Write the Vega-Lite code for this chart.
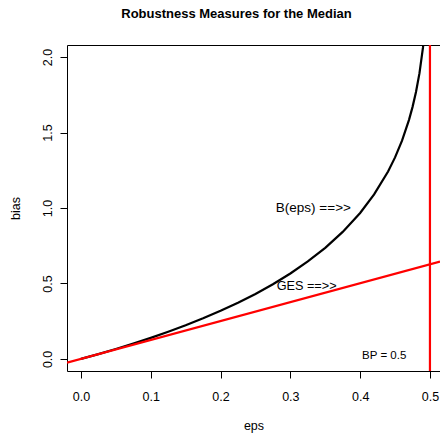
{
  "$schema": "https://vega.github.io/schema/vega-lite/v6.json",
  "width": 373,
  "height": 326,
  "autosize": "none",
  "padding": {"left": 67, "top": 45, "right": 0, "bottom": 62},
  "background": "white",
  "config": {
    "font": "Liberation Sans",
    "view": {"stroke": "black", "strokeWidth": 1},
    "axis": {
      "domain": false,
      "grid": false,
      "tickColor": "black",
      "tickSize": 7,
      "labelFontSize": 12.5,
      "labelColor": "black",
      "labelFont": "Liberation Sans",
      "titleFont": "Liberation Sans",
      "titleFontSize": 12.5,
      "titleFontWeight": "normal",
      "titleColor": "black"
    }
  },
  "title": {
    "text": "Robustness Measures for the Median",
    "font": "Liberation Sans",
    "fontSize": 13,
    "fontWeight": "bold",
    "color": "black",
    "anchor": "middle",
    "offset": 23,
    "dx": -17
  },
  "datasets": {
    "curve": [
      {"eps": 0.0, "bias": 0.0},
      {"eps": 0.025, "bias": 0.0321},
      {"eps": 0.05, "bias": 0.066},
      {"eps": 0.075, "bias": 0.1018},
      {"eps": 0.1, "bias": 0.1397},
      {"eps": 0.125, "bias": 0.18},
      {"eps": 0.15, "bias": 0.223},
      {"eps": 0.175, "bias": 0.2691},
      {"eps": 0.2, "bias": 0.3186},
      {"eps": 0.225, "bias": 0.3723},
      {"eps": 0.25, "bias": 0.4307},
      {"eps": 0.275, "bias": 0.4949},
      {"eps": 0.3, "bias": 0.5659},
      {"eps": 0.325, "bias": 0.6456},
      {"eps": 0.35, "bias": 0.7363},
      {"eps": 0.375, "bias": 0.8416},
      {"eps": 0.4, "bias": 0.9674},
      {"eps": 0.42, "bias": 1.0898},
      {"eps": 0.44, "bias": 1.2417},
      {"eps": 0.45, "bias": 1.3352},
      {"eps": 0.46, "bias": 1.4461},
      {"eps": 0.47, "bias": 1.5839},
      {"eps": 0.475, "bias": 1.6684},
      {"eps": 0.48, "bias": 1.7688},
      {"eps": 0.485, "bias": 1.8936},
      {"eps": 0.49, "bias": 2.0619},
      {"eps": 0.4925, "bias": 2.176},
      {"eps": 0.495, "bias": 2.3301}
    ],
    "ges": [
      {"eps": -0.02, "bias": -0.0251},
      {"eps": 0.5144, "bias": 0.6447}
    ],
    "bp": [{"eps": 0.5}],
    "labels": [
      {"eps": 0.333, "bias": 1.0, "label": "B(eps) ==>>", "size": 13.5},
      {"eps": 0.3233, "bias": 0.485, "label": "GES ==>>", "size": 12.7},
      {"eps": 0.4344, "bias": 0.022, "label": "BP = 0.5", "size": 11.5}
    ]
  },
  "layer": [
    {
      "data": {"name": "curve"},
      "mark": {"type": "line", "color": "black", "strokeWidth": 2.2, "clip": true},
      "encoding": {
        "x": {
          "field": "eps", "type": "quantitative",
          "scale": {"domain": [-0.02, 0.5144], "nice": false, "zero": false},
          "axis": {"title": "eps", "values": [0, 0.1, 0.2, 0.3, 0.4, 0.5], "format": ".1f", "labelPadding": 12, "titlePadding": 17}
        },
        "y": {
          "field": "bias", "type": "quantitative",
          "scale": {"domain": [-0.08, 2.08], "nice": false, "zero": false},
          "axis": {"title": "bias", "values": [0, 0.5, 1, 1.5, 2], "format": ".1f", "labelAngle": -90, "labelAlign": "center", "labelBaseline": "bottom", "labelPadding": 6, "titlePadding": 19}
        }
      }
    },
    {
      "data": {"name": "ges"},
      "mark": {"type": "line", "color": "#ff0000", "strokeWidth": 2.2, "clip": true},
      "encoding": {
        "x": {"field": "eps", "type": "quantitative"},
        "y": {"field": "bias", "type": "quantitative"}
      }
    },
    {
      "data": {"name": "bp"},
      "mark": {"type": "rule", "color": "#ff0000", "strokeWidth": 2.2},
      "encoding": {
        "x": {"field": "eps", "type": "quantitative"}
      }
    },
    {
      "data": {"name": "labels"},
      "mark": {"type": "text", "font": "Liberation Sans", "color": "black", "align": "center", "baseline": "middle"},
      "encoding": {
        "x": {"field": "eps", "type": "quantitative"},
        "y": {"field": "bias", "type": "quantitative"},
        "text": {"field": "label"},
        "size": {"field": "size", "type": "quantitative", "scale": null}
      }
    }
  ]
}
